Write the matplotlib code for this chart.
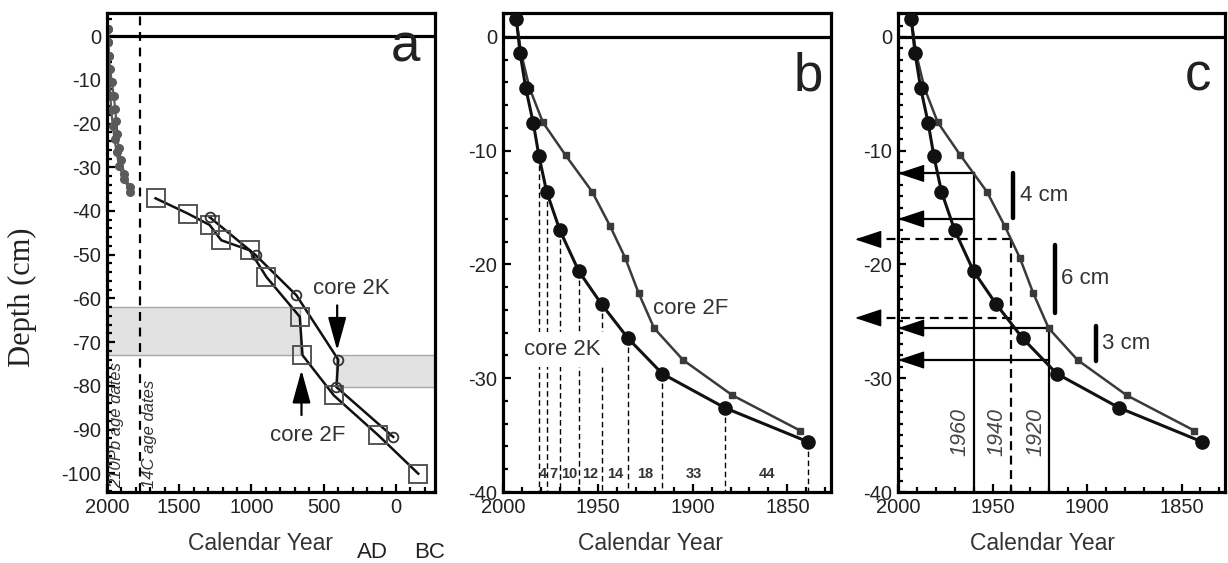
import numpy as np
import matplotlib
matplotlib.use("Agg")
import matplotlib.pyplot as plt
from matplotlib.ticker import MultipleLocator

plt.rcParams['font.family'] = ['Liberation Sans', 'DejaVu Sans']
plt.rcParams['axes.unicode_minus'] = False

# 210Pb chronologies: calendar year and depth (cm)
year_2k = [1993, 1991, 1988, 1984, 1981, 1977, 1970, 1960, 1948, 1934, 1916, 1883, 1839]
depth_2k = [1.6, -1.4, -4.5, -7.6, -10.5, -13.6, -17.0, -20.6, -23.5, -26.5, -29.6, -32.6, -35.6]
year_2f = [1993, 1990.5, 1986, 1979, 1967, 1953, 1943.6, 1935.6, 1928.5, 1920.3, 1905, 1879, 1843.3]
depth_2f = [1.6, -1.4, -4.5, -7.5, -10.4, -13.6, -16.6, -19.4, -22.5, -25.6, -28.4, -31.5, -34.6]

# 14C chronologies
c14_year_2f = [1664, 1440, 1290, 1209, 1012, 897, 666, 647, 430, 123, -154]
c14_depth_2f = [-37.1, -40.6, -43.2, -46.7, -49.0, -55.1, -64.2, -73.0, -82.2, -91.3, -100.1]
c14_year_2k = [1290, 971, 689, 400, 412, 19]
c14_depth_2k = [-41.4, -50.1, -59.3, -74.0, -80.3, -91.7]

# shaded depth intervals (year span, depth span)
band_years = [(2000, 666), (412, -270)]
band_depths = [(-62.0, -73.0), (-73.0, -80.3)]

# dated horizons in panel c
horizon_years = [1960, 1940, 1920]
horizon_tops = [-12.0, -17.8, -25.6]
horizon_styles = ['-', '--', '-']
solid_arrow_years = [1960, 1960, 1920, 1920]
solid_arrow_depths = [-12.0, -16.0, -25.6, -28.4]
dashed_arrow_depths = [-17.8, -24.7]
offset_labels = ['4 cm', '6 cm', '3 cm']
offset_values = [4, 6, 3]
offset_centers = [-13.95, -21.25, -26.95]
offset_years = [1939, 1917, 1895.5]

INK = '#111111'
TICKCOL = '#222222'

fig = plt.figure(figsize=(12.28, 5.63), dpi=100)
W, H = 1228.0, 563.0
bottom, height = (H - 492) / H, 479 / H
ax_a = fig.add_axes([107 / W, bottom, 328 / W, height])
ax_b = fig.add_axes([503 / W, bottom, 328 / W, height])
ax_c = fig.add_axes([898 / W, bottom, 327 / W, height])


def style(ax, xmaj, xmin, ymaj, ymin):
    for s in ax.spines.values():
        s.set_linewidth(2.3)
        s.set_color('k')
    ax.xaxis.set_major_locator(MultipleLocator(xmaj))
    ax.xaxis.set_minor_locator(MultipleLocator(xmin))
    ax.yaxis.set_major_locator(MultipleLocator(ymaj))
    ax.yaxis.set_minor_locator(MultipleLocator(ymin))
    ax.tick_params(which='both', direction='in', top=False, right=False,
                   labelsize=14.5, labelcolor=TICKCOL, width=1.6, color='k')
    ax.tick_params(which='major', length=6, pad=4)
    ax.tick_params(which='minor', length=3.5)
    ax.axhline(0, color='k', lw=2.3, zorder=1)


# ---------------- panel a ----------------
ax = ax_a
ax.set_xlim(2000, -270)
ax.set_ylim(-104.3, 5.3)
style(ax, 500, 100, 10, 2)
for (x0, x1), (d0, d1) in zip(band_years, band_depths):
    ax.fill_between([x0, x1], d0, d1, facecolor='#e2e2e2', edgecolor='#a8a8a8',
                    lw=1.0, zorder=0)
ax.plot(year_2k, depth_2k, '-o', color='#5a5a5a', ms=5.5, lw=1.6, zorder=2)
ax.plot(year_2f, depth_2f, '-o', color='#5a5a5a', ms=5.5, lw=1.6, zorder=2)
ax.axvline(1775, color='k', ls=(0, (4, 3)), lw=1.6, zorder=1)
ax.plot(c14_year_2f, c14_depth_2f, '-', color=INK, lw=1.8, zorder=3)
ax.plot(c14_year_2f, c14_depth_2f, 's', ms=13, mfc='none', mec='#555555', mew=1.4, zorder=4)
ax.plot(c14_year_2k, c14_depth_2k, '-', color=INK, lw=1.8, zorder=3)
ax.plot(c14_year_2k, c14_depth_2k, 'o', ms=7, mfc='none', mec='#333333', mew=1.3, zorder=4)
ax.annotate('', xy=(407, -71.9), xytext=(407, -61.6),
            arrowprops=dict(arrowstyle='-|>,head_length=1.45,head_width=0.4',
                            mutation_scale=14, color='k', lw=1.6,
                            shrinkA=0, shrinkB=0), zorder=5)
ax.annotate('', xy=(654, -76.4), xytext=(654, -86.7),
            arrowprops=dict(arrowstyle='-|>,head_length=1.45,head_width=0.4',
                            mutation_scale=14, color='k', lw=1.6,
                            shrinkA=0, shrinkB=0), zorder=5)
ax.text(308, -57.7, 'core 2K', fontsize=16, color='#333333', ha='center', va='center')
ax.text(609, -91.3, 'core 2F', fontsize=16, color='#333333', ha='center', va='center')
ax.text(1934, -103.4, '210Pb age dates', rotation=90, fontsize=12, style='italic',
        color='#333333', ha='center', va='bottom')
ax.text(1705, -103.4, '14C age dates', rotation=90, fontsize=12, style='italic',
        color='#333333', ha='center', va='bottom')
ax.text(0.909, 0.898, 'a', transform=ax.transAxes, fontsize=38, ha='center',
        va='baseline', color='#222222')

# ---------------- panel b ----------------
ax = ax_b
ax.set_xlim(2000, 1827)
ax.set_ylim(-40, 2.1)
style(ax, 50, 10, 10, 2)
gaps = -np.diff(year_2k[4:])
for yr, d in zip(year_2k[4:], depth_2k[4:]):
    ax.plot([yr, yr], [d, -40], color='k', ls=(0, (4, 2.5)), lw=1.0, zorder=1)
for y0, y1, g in zip(year_2k[4:-1], year_2k[5:], gaps):
    ax.text((y0 + y1) / 2, -38.4, f'{int(g)}', fontsize=10.5, fontweight='bold',
            ha='center', va='center', color='#333333', zorder=3)
ax.plot(year_2f, depth_2f, '-s', color='#3a3a3a', ms=4.5, lw=1.8, zorder=2)
ax.plot(year_2k, depth_2k, '-o', color=INK, ms=9.5, lw=2.2, zorder=3)
ax.text(1901, -23.9, 'core 2F', fontsize=16, color='#333333', ha='center', va='center',
        zorder=4)
ax.text(1968.5, -27.5, 'core 2K', fontsize=16, color='#333333', ha='center', va='center',
        zorder=4, bbox=dict(facecolor='white', edgecolor='none', pad=5))
ax.text(0.93, 0.839, 'b', transform=ax.transAxes, fontsize=38, ha='center',
        va='baseline', color='#222222')

# ---------------- panel c ----------------
ax = ax_c
ax.set_xlim(2000, 1827)
ax.set_ylim(-40, 2.1)
style(ax, 50, 10, 10, 1)
ax.plot(year_2f, depth_2f, '-s', color='#3a3a3a', ms=4.5, lw=1.8, zorder=2)
ax.plot(year_2k, depth_2k, '-o', color=INK, ms=9.5, lw=2.2, zorder=3)
for yr, top, ls in zip(horizon_years, horizon_tops, horizon_styles):
    ax.plot([yr, yr], [top, -40], color='k', ls=ls if ls == '-' else (0, (4, 2.5)),
            lw=1.6, zorder=1)
head = dict(arrowstyle='-|>,head_length=1.2,head_width=0.4', mutation_scale=14,
            color='k', lw=1.0, shrinkA=0, shrinkB=0)
for yr, d in zip(solid_arrow_years, solid_arrow_depths):
    ax.plot([yr, 2000], [d, d], color='k', lw=1.6, zorder=1)
    ax.annotate('', xy=(2000, d), xytext=(1990, d), arrowprops=head,
                annotation_clip=False, zorder=5)
for d in dashed_arrow_depths:
    ax.plot([1940, 2022.7], [d, d], color='k', ls=(0, (4, 2.5)), lw=1.6,
            zorder=1, clip_on=False)
    ax.annotate('', xy=(2022.7, d), xytext=(2012, d), arrowprops=head,
                annotation_clip=False, zorder=5)
for yr, c, v, lab in zip(offset_years, offset_centers, offset_values, offset_labels):
    ax.plot([yr, yr], [c + v / 2, c - v / 2], color='k', lw=3.2,
            solid_capstyle='round', zorder=4)
    ax.text(yr - 3.3, c, lab, fontsize=16, color='#333333', ha='left', va='center')
for yr, xt in zip(horizon_years, [1967.2, 1947.5, 1927.1]):
    ax.text(xt, -34.7, f'{yr}', rotation=90, fontsize=15.5, style='italic',
            color='#444444', ha='center', va='center')
ax.text(0.917, 0.839, 'c', transform=ax.transAxes, fontsize=38, ha='center',
        va='baseline', color='#222222')

# ---------------- figure labels ----------------
for xc in (260, 651, 1043):
    fig.text(xc / W, 1 - 543 / H, 'Calendar Year', fontsize=16.5, color='#333333',
             ha='center', va='center')
fig.text(372 / W, 1 - 553 / H, 'AD', fontsize=16, color='#222222', ha='center', va='center')
fig.text(430 / W, 1 - 553 / H, 'BC', fontsize=16, color='#222222', ha='center', va='center')
fig.text(22.7 / W, 1 - 297.5 / H, 'Depth (cm)', rotation=90, fontsize=22,
         family='Liberation Serif', color='#222222', ha='center', va='center')

fig.savefig('out.png', dpi=100)
